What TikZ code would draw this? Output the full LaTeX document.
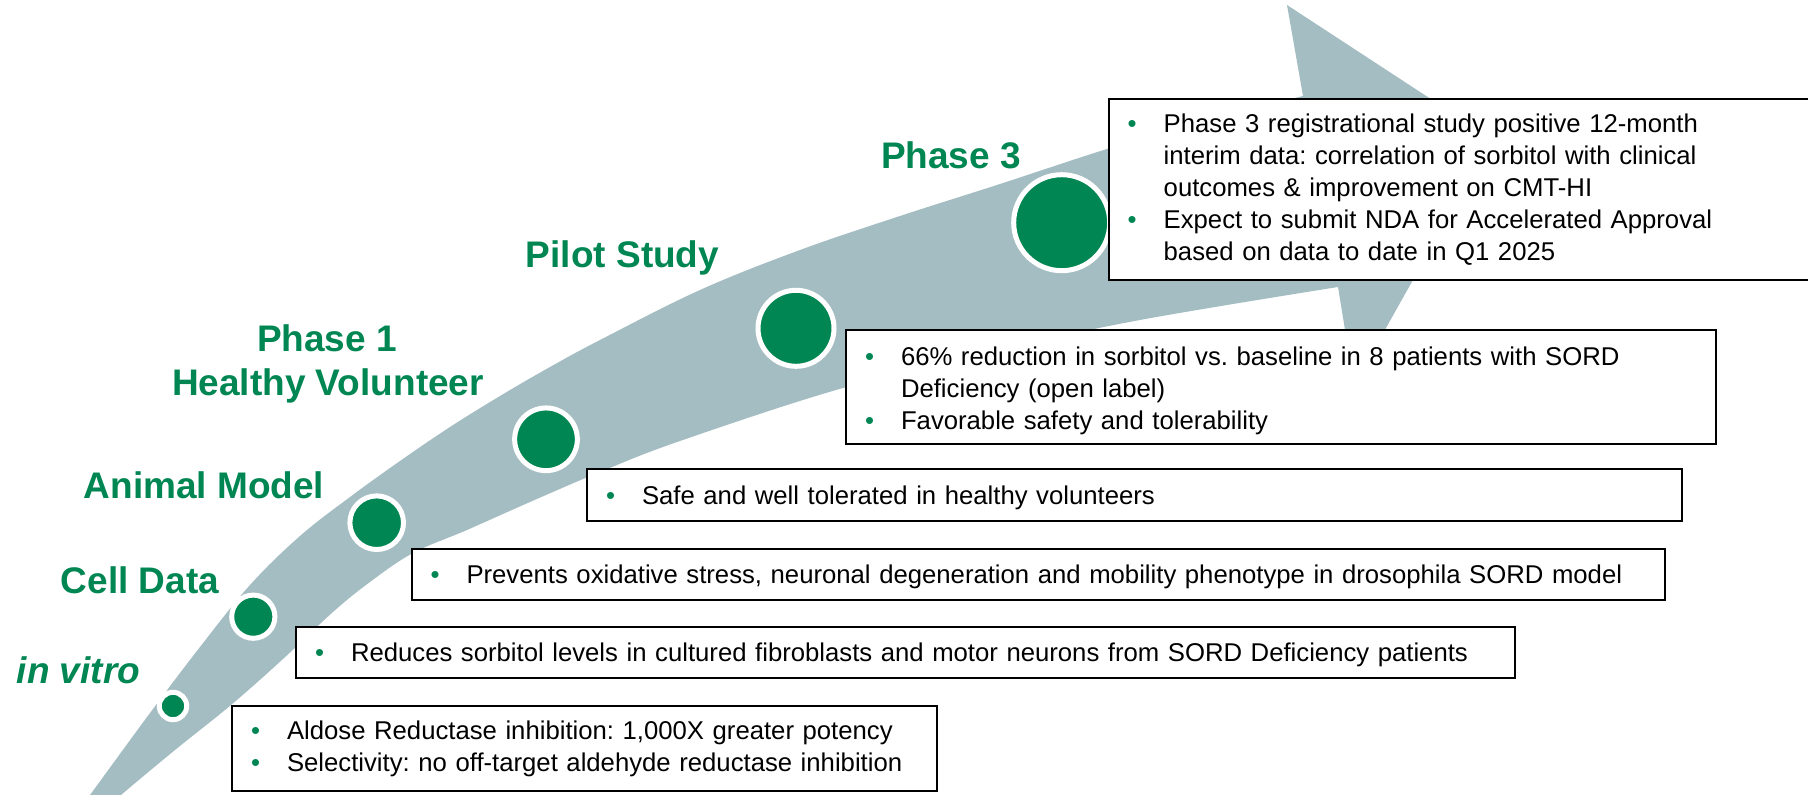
\documentclass[tikz,border=0pt]{standalone}
\usepackage{fontspec}
\setmainfont{Liberation Sans}
\frenchspacing
\definecolor{pgreen}{RGB}{0,134,82}
\definecolor{bandc}{RGB}{164,189,194}
\newcommand{\itm}{\makebox[36pt][l]{\textcolor{pgreen}{\textbullet}}}
\newcommand{\cnt}{\hspace*{36pt}}
\begin{document}
\begin{tikzpicture}[x=1pt,y=-1pt,
  lbl/.style={text=pgreen, font=\fontsize{37}{44}\selectfont\bfseries, inner sep=0pt, anchor=base},
  dot/.style={circle, fill=pgreen, draw=white, line width=5pt, inner sep=0pt},
  infobox/.style={draw=black, line width=2pt, fill=white, anchor=north west,
    inner xsep=19pt, inner ysep=0pt, align=left,
    font=\fontsize{25.7}{32}\selectfont\frenchspacing},
  oneline/.style={text depth=0pt}]
\useasboundingbox (0,0) rectangle (1808,795);
\clip (0,0) rectangle (1808,795);

% curved arrow band
\fill[bandc] plot[smooth, tension=0.6] coordinates {(73,818) (90,795) (150,713) (200,647) (250,585) (300,536) (350,497) (400,461) (450,427) (500,396) (550,367) (600,340) (700,290) (800,250) (900,216) (1000,184) (1107,149) (1200,122) (1303,96)}
  -- (1287,5) -- (1492,139) -- (1354,385) -- (1338,287)
  -- plot[smooth, tension=0.6] coordinates {(1338,287) (1140,320) (1000,350) (843,388) (680,441) (600,472) (530,502) (467,530) (413,553) (370,582) (333,612) (283,659) (231,705) (175,750) (121,795) (95,818)}
  -- cycle;

% milestone dots
\node[dot, minimum size=27.4pt] (d1) at (173,706) {};
\node[dot, minimum size=43.2pt] (d2) at (253.3,616.7) {};
\node[dot, minimum size=53.6pt] (d3) at (376.7,522.7) {};
\node[dot, minimum size=62.7pt] (d4) at (546,439.3) {};
\node[dot, minimum size=76pt] (d5) at (796,328.3) {};
\node[dot, minimum size=96pt] (d6) at (1061.7,222.7) {};

% stage labels
\node[lbl] (l1) at (78.5,683) {\textit{in vitro}};
\node[lbl] (l2) at (140,593) {Cell Data};
\node[lbl] (l3) at (204,498) {Animal Model};
\node[lbl] (l4a) at (327,351.7) {Phase 1};
\node[lbl] (l4b) at (328,395.7) {Healthy Volunteer};
\node[lbl] (l5) at (622.5,267.3) {Pilot Study};
\node[lbl] (l6) at (951,168.3) {Phase 3};

% info boxes
\node[infobox, minimum width=720pt, text width=682pt, minimum height=181pt] (b6) at (1107.7,98) {%
\itm Phase 3 registrational study positive 12-month\\
\cnt interim data: correlation of sorbitol with clinical\\
\cnt outcomes \& improvement on CMT-HI\\
\itm Expect to submit NDA for Accelerated Approval\\
\cnt based on data to date in Q1 2025};

\node[infobox, minimum width=870pt, text width=832pt, minimum height=114pt] (b5) at (845,329) {%
\rule{0pt}{27pt}\itm 66\% reduction in sorbitol vs. baseline in 8 patients with SORD\\
\cnt Deficiency (open label)\\
\itm Favorable safety and tolerability};

\node[infobox, oneline, minimum width=1095pt, text width=1057pt, minimum height=52pt] (b4) at (586,468) {%
\itm Safe and well tolerated in healthy volunteers};

\node[infobox, oneline, minimum width=1253.5pt, text width=1215.5pt, minimum height=51pt] (b3) at (410.5,547.5) {%
\itm Prevents oxidative stress, neuronal degeneration and mobility phenotype in drosophila SORD model};

\node[infobox, oneline, minimum width=1219pt, text width=1181pt, minimum height=51pt] (b2) at (295,626) {%
\itm Reduces sorbitol levels in cultured fibroblasts and motor neurons from SORD Deficiency patients};

\node[infobox, minimum width=705pt, text width=667pt, minimum height=85pt] (b1) at (231,705) {%
\itm Aldose Reductase inhibition: 1,000X greater potency\\
\itm Selectivity: no off-target aldehyde reductase inhibition};
\end{tikzpicture}
\end{document}
